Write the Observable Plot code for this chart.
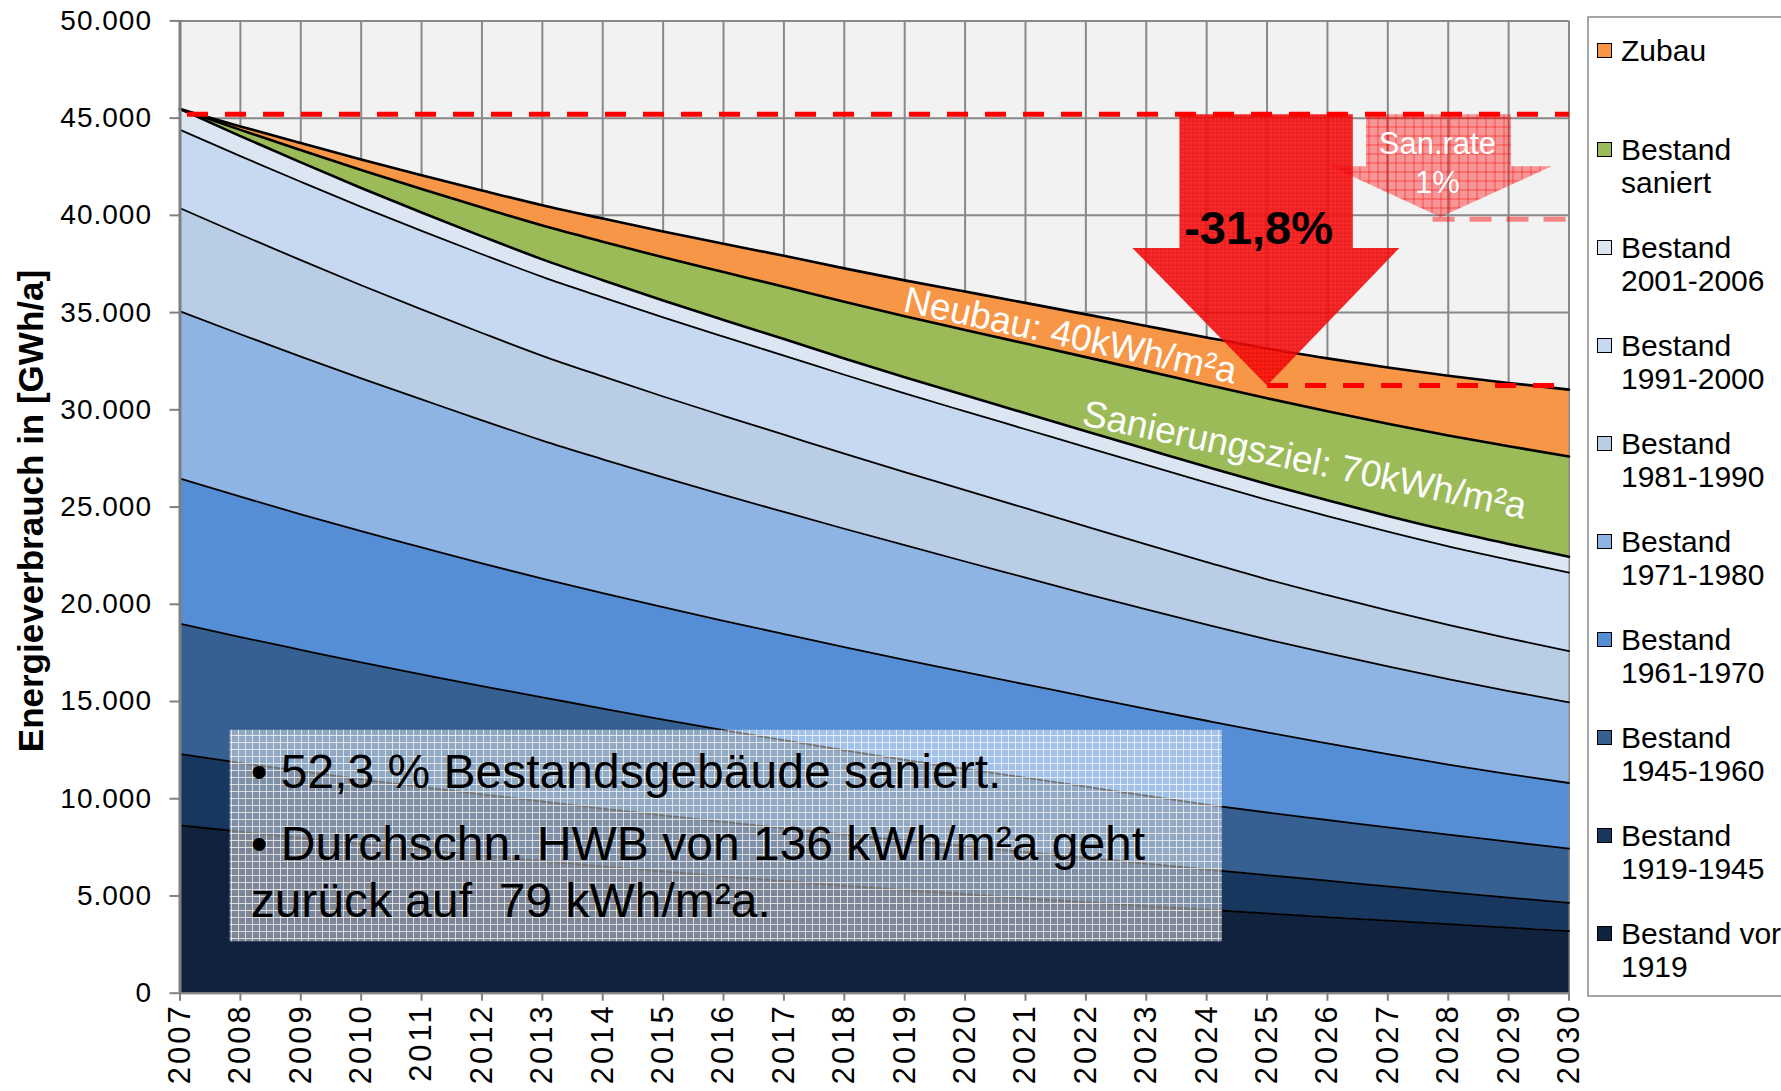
<!DOCTYPE html>
<html><head><meta charset="utf-8">
<script src="https://cdn.jsdelivr.net/npm/d3@7"></script>
<script src="https://cdn.jsdelivr.net/npm/@observablehq/plot@0.6"></script>
<style>
html,body{margin:0;padding:0;background:#fff;overflow:hidden;width:1781px;height:1091px;}
#wrap{position:relative;width:1781px;height:1091px;font-family:"Liberation Sans",Arial,sans-serif;}
#chart{position:absolute;left:0;top:0;}
#legend{position:absolute;left:1587px;top:16px;width:260px;height:981px;border:2px solid #a6a6a6;box-sizing:border-box;background:#fff;}
.sw{position:absolute;width:15px;height:15px;border:1.5px solid #000;box-sizing:border-box}
.lt{position:absolute;font-size:30px;line-height:33px;white-space:nowrap;color:#000}
[aria-label="x-axis tick label"] text{letter-spacing:3px}
[aria-label="y-axis tick label"] text{letter-spacing:1px}
</style></head>
<body>
<div id="wrap"><div id="chart"></div><div id="legend"></div></div>
<script>
// ---------- data ----------
const years = [2007,2008,2009,2010,2011,2012,2013,2014,2015,2016,2017,2018,2019,2020,2021,2022,2023,2024,2025,2026,2027,2028,2029,2030];
const yTicks = [0,5000,10000,15000,20000,25000,30000,35000,40000,45000,50000];

const seriesNames = ["Bestand vor 1919","Bestand 1919-1945","Bestand 1945-1960","Bestand 1961-1970","Bestand 1971-1980","Bestand 1981-1990","Bestand 1991-2000","Bestand 2001-2006","Bestand saniert","Zubau"];
const seriesColors = ["#11223f","#17375e","#376092","#558ed5","#8eb4e3","#b9cde5","#c6d9f1","#dce6f2","#9bbb59","#f79646"];

// GWh/a per series and year (stacked bottom -> top)
const vor1919   = [8630,8305,7987,7677,7375,7081,6798,6526,6264,6012,5769,5534,5307,5090,4881,4679,4483,4291,4102,3916,3732,3550,3370,3190];
const b1919_1945 = [3670,3540,3430,3320,3230,3140,3060,2970,2880,2800,2720,2630,2550,2470,2380,2280,2180,2070,1970,1870,1760,1650,1550,1460];
const b1945_1960 = [6700,6470,6240,6010,5790,5570,5360,5140,4930,4720,4520,4330,4140,3980,3820,3660,3490,3340,3220,3120,3030,2950,2870,2780];
const b1961_1970 = [7470,7220,6970,6750,6530,6310,6100,5940,5780,5620,5460,5300,5140,4970,4800,4630,4470,4310,4120,3940,3770,3610,3480,3380];
const b1971_1980 = [8600,8350,8110,7860,7610,7360,7100,6880,6670,6470,6280,6090,5900,5690,5490,5290,5110,4940,4780,4640,4510,4390,4270,4150];
const b1981_1990 = [5300,5130,4960,4790,4630,4490,4360,4260,4160,4070,3970,3860,3760,3670,3570,3470,3350,3220,3090,2980,2880,2790,2710,2630];
const b1991_2000 = [4030,4030,4030,4030,4040,4050,4060,4070,4070,4070,4070,4060,4050,4050,4060,4070,4080,4090,4090,4070,4050,4040,4040,4040];
const b2001_2006 = [1070,1030,1000,970,940,920,900,880,870,860,850,840,830,830,820,820,820,810,810,810,810,810,810,810];
const saniert    = [0,320,630,930,1210,1480,1740,1980,2220,2460,2690,2910,3130,3360,3590,3810,4020,4220,4410,4580,4740,4890,5030,5160];
const zubau      = [0,180,360,540,710,880,1040,1190,1330,1460,1590,1720,1850,1970,2090,2200,2310,2430,2560,2720,2890,3070,3250,3440];
const seriesValues = [vor1919,b1919_1945,b1945_1960,b1961_1970,b1971_1980,b1981_1990,b1991_2000,b2001_2006,saniert,zubau];

const legendLabels = [["Zubau"],["Bestand","saniert"],["Bestand","2001-2006"],["Bestand","1991-2000"],["Bestand","1981-1990"],["Bestand","1971-1980"],["Bestand","1961-1970"],["Bestand","1945-1960"],["Bestand","1919-1945"],["Bestand vor","1919"]];

// annotations (data units)
const refLevels = [45200, 31250, 39800];          // 2007 level, 2030 level, San.rate level
const bigArrowX = [2023.55, 2026.42, 2022.77, 2027.19, 2025.0]; // shaft x1,x2, head x1,x2, tip x
const bigArrowY = [45200, 38320, 31250];           // top, head base, tip
const smallArrowX = [2026.64, 2029.04, 2026.05, 2029.71, 2027.87];
const smallArrowY = [45200, 42520, 39910];
const boxX = [2007.83, 2024.26];
const boxY = [2640, 13520];
const boxLines = ["• 52,3 % Bestandsgebäude saniert.", "• Durchschn. HWB von 136 kWh/m²a geht", "zurück auf\u00a0 79 kWh/m²a."];
const boxLineY = [10540, 6830, 3900];
const boxTextX = 2008.17;

// ---------- build ----------
const rows = [];
years.forEach((yr, i) => {
  let acc = 0;
  seriesNames.forEach((s, k) => {
    const v = seriesValues[k][i];
    rows.push({year: yr, series: s, value: v, y1: acc, y2: acc + v});
    acc += v;
  });
});
const thickSeries = new Set(["Bestand 2001-2006","Bestand saniert","Zubau"]);

const de = d3.formatLocale({decimal: ",", thousands: ".", grouping: [3], currency: ["", " €"]});
const fmt = de.format(",");

function arrow(X, Y) {
  const [sx1, sx2, hx1, hx2, tx] = X, [top, base, tip] = Y;
  return [{x: sx1, y: top}, {x: sx2, y: top}, {x: sx2, y: base}, {x: hx2, y: base}, {x: tx, y: tip},
          {x: hx1, y: base}, {x: sx1, y: base}, {x: sx1, y: top}];
}

const chart = Plot.plot({
  width: 1781, height: 1091,
  marginLeft: 179.5, marginRight: 212.5, marginTop: 20.4, marginBottom: 98.3,
  x: {domain: [2007, 2030]},
  y: {domain: [0, 50000]},
  color: {domain: seriesNames, range: seriesColors},
  style: {fontFamily: '"Liberation Sans", Arial, sans-serif', overflow: "visible", background: "#fff"},
  marks: [
    Plot.frame({fill: "#f2f2f2", stroke: "none"}),
    Plot.gridX(years, {stroke: "#898989", strokeOpacity: 1, strokeWidth: 2}),
    Plot.gridY(yTicks, {stroke: "#898989", strokeOpacity: 1, strokeWidth: 2}),
    Plot.areaY(rows, {x: "year", y1: "y1", y2: "y2", z: "series", fill: "series", curve: "monotone-x"}),
    Plot.line(rows.filter(d => !thickSeries.has(d.series)), {x: "year", y: "y2", z: "series", stroke: "#000", strokeWidth: 1.8, curve: "monotone-x"}),
    Plot.line(rows.filter(d => thickSeries.has(d.series)), {x: "year", y: "y2", z: "series", stroke: "#000", strokeWidth: 2.6, curve: "monotone-x"}),
    Plot.ruleX([2007], {stroke: "#7f7f7f", strokeWidth: 3}),
    Plot.ruleY([0], {stroke: "#8c8c8c", strokeWidth: 2}),
    Plot.axisY(yTicks, {tickFormat: fmt, tickSize: 10, tickPadding: 18, fontSize: 28, stroke: "#808080", strokeWidth: 2, fill: "#000", label: null}),
    Plot.axisX(years, {tickFormat: d => String(d), tickRotate: -90, tickSize: 8, tickPadding: 2, fontSize: 31, stroke: "#808080", strokeWidth: 2, fill: "#000", label: null}),
    // text box
    Plot.rect([{x1: boxX[0], x2: boxX[1], y1: boxY[0], y2: boxY[1]}], {x1: "x1", x2: "x2", y1: "y1", y2: "y2", fill: "url(#boxgrid)"}),
    Plot.text(boxLines.map((t, i) => ({t, x: boxTextX, y: boxLineY[i]})), {x: "x", y: "y", text: "t", textAnchor: "start", lineAnchor: "bottom", fontSize: 48, fill: "#000"}),
    // arrows
    Plot.line(arrow(smallArrowX, smallArrowY), {x: "x", y: "y", fill: "url(#pinkgrid)", stroke: "none", curve: "linear"}),
    Plot.line(arrow(bigArrowX, bigArrowY), {x: "x", y: "y", fill: "url(#redgrid)", fillOpacity: 0.88, stroke: "none", curve: "linear"}),
    // dashed reference lines
    Plot.line([{x: 2007, y: refLevels[0]}, {x: 2030, y: refLevels[0]}], {x: "x", y: "y", stroke: "#ff0000", strokeWidth: 5, strokeDasharray: "21,17", strokeDashoffset: 31, strokeLinecap: "butt"}),
    Plot.line([{x: bigArrowX[4], y: refLevels[1]}, {x: 2030, y: refLevels[1]}], {x: "x", y: "y", stroke: "#ff0000", strokeWidth: 5, strokeDasharray: "21,17", strokeLinecap: "butt"}),
    Plot.line([{x: 2027.74, y: refLevels[2]}, {x: 2030, y: refLevels[2]}], {x: "x", y: "y", stroke: "#ff0000", strokeOpacity: 0.45, strokeWidth: 5, strokeDasharray: "22,15", strokeLinecap: "butt"}),
    // arrow texts
    Plot.text([{t: "-31,8%", x: 2024.86, y: 38540}], {x: "x", y: "y", text: "t", fontSize: 47, fontWeight: "bold", lineAnchor: "bottom", fill: "#000"}),
    Plot.text([{t: "San.rate", x: 2027.82, y: 43130}, {t: "1%", x: 2027.82, y: 41140}], {x: "x", y: "y", text: "t", fontSize: 31, lineAnchor: "bottom", fill: "#fff"}),
    // band labels
    Plot.text([{t: "Neubau: 40kWh/m²a", x: 2021.70, y: 33210}], {x: "x", y: "y", text: "t", fontSize: 37, rotate: 12.3, lineAnchor: "bottom", fill: "#fff"}),
    Plot.text([{t: "Sanierungsziel: 70kWh/m²a", x: 2025.58, y: 26810}], {x: "x", y: "y", text: "t", fontSize: 37, rotate: 12, lineAnchor: "bottom", fill: "#fff"}),
    // y title
    Plot.text(["Energieverbrauch in [GWh/a]"], {text: d => d, frameAnchor: "left", textAnchor: "middle", lineAnchor: "middle", dx: -148, dy: 4, rotate: -90, fontSize: 35, fontWeight: "bold", fill: "#000"})
  ]
});

chart.insertAdjacentHTML("afterbegin", `<defs>
<pattern id="boxgrid" width="7" height="7" patternUnits="userSpaceOnUse">
  <rect width="7" height="7" fill="#ffffff" fill-opacity="0.45"/>
  <path d="M0 0.5H7M0.5 0V7" stroke="#ffffff" stroke-opacity="0.7" stroke-width="1"/>
</pattern>
<pattern id="redgrid" width="4" height="4" patternUnits="userSpaceOnUse">
  <rect width="4" height="4" fill="#ff1010"/>
  <path d="M0 0.5H4M0.5 0V4" stroke="#e00000" stroke-width="1"/>
</pattern>
<pattern id="pinkgrid" width="9" height="9" patternUnits="userSpaceOnUse">
  <rect width="9" height="9" fill="#ff0000" fill-opacity="0.38"/>
  <path d="M0 0.5H9M0.5 0V9" stroke="#ff0000" stroke-opacity="0.5" stroke-width="1"/>
</pattern>
</defs>`);
document.getElementById("chart").appendChild(chart);

// legend (top -> bottom = Zubau ... vor 1919)
const legend = document.getElementById("legend");
const legendColors = seriesColors.slice().reverse();
legendLabels.forEach((lines, i) => {
  const cy = (i === 0 ? 50 : 149 + (i - 1) * 98) - 18; // relative to legend content box
  const sw = document.createElement("div");
  sw.className = "sw";
  sw.style.left = "8px";
  sw.style.top = (cy - 7.5) + "px";
  sw.style.background = legendColors[i];
  legend.appendChild(sw);
  const lt = document.createElement("div");
  lt.className = "lt";
  lt.style.left = "32px";
  lt.style.top = (cy - 16.5) + "px";
  lt.innerHTML = lines.join("<br>");
  legend.appendChild(lt);
});
</script>
</body></html>
